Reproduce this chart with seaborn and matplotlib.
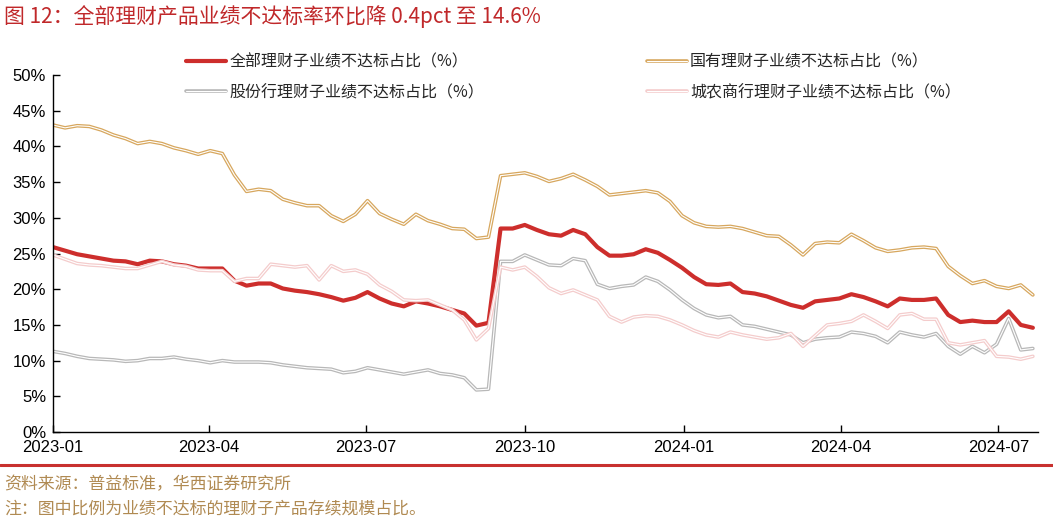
import pandas as pd
import matplotlib.pyplot as plt
import matplotlib.patheffects as pe
import seaborn as sns

# weekly observations, 2023-01 .. 2024-07
dates = pd.date_range('2023-01-06', periods=82, freq='7D')

all_wm = [25.9, 25.4, 24.9, 24.6, 24.3, 24.0, 23.9, 23.5, 24.0, 23.9,
          23.5, 23.3, 22.9, 22.9, 22.9, 21.2, 20.5, 20.8, 20.8, 20.1,
          19.8, 19.6, 19.3, 18.9, 18.4, 18.8, 19.6, 18.7, 18.0, 17.6,
          18.3, 18.0, 17.6, 17.1, 16.6, 14.9, 15.3, 28.5, 28.5, 29.0,
          28.3, 27.7, 27.5, 28.3, 27.7, 25.9, 24.7, 24.7, 24.9, 25.6,
          25.1, 24.1, 23.0, 21.7, 20.7, 20.6, 20.8, 19.6, 19.4, 19.0,
          18.4, 17.8, 17.4, 18.3, 18.5, 18.7, 19.3, 18.9, 18.3, 17.6,
          18.7, 18.5, 18.5, 18.7, 16.4, 15.4, 15.6, 15.4, 15.4, 16.9,
          15.0, 14.6]

state_owned = [43.0, 42.6, 42.9, 42.8, 42.3, 41.6, 41.1, 40.4, 40.7, 40.4,
               39.8, 39.4, 38.9, 39.4, 39.0, 36.0, 33.7, 34.0, 33.8, 32.6,
               32.1, 31.7, 31.7, 30.3, 29.5, 30.5, 32.4, 30.6, 29.8, 29.1,
               30.5, 29.6, 29.1, 28.5, 28.4, 27.1, 27.3, 35.9, 36.1, 36.3,
               35.8, 35.1, 35.5, 36.1, 35.3, 34.4, 33.2, 33.4, 33.6, 33.8,
               33.5, 32.3, 30.3, 29.3, 28.8, 28.7, 28.8, 28.5, 28.0, 27.5,
               27.4, 26.2, 24.8, 26.4, 26.6, 26.5, 27.7, 26.8, 25.8, 25.3,
               25.5, 25.8, 25.9, 25.7, 23.2, 21.9, 20.8, 21.2, 20.4, 20.1,
               20.6, 19.2]

joint_stock = [11.3, 11.0, 10.6, 10.3, 10.2, 10.1, 9.9, 10.0, 10.3, 10.3,
               10.5, 10.2, 10.0, 9.7, 10.0, 9.8, 9.8, 9.8, 9.7, 9.4,
               9.2, 9.0, 8.9, 8.8, 8.3, 8.5, 9.0, 8.7, 8.4, 8.1,
               8.4, 8.7, 8.2, 8.0, 7.6, 5.9, 6.0, 23.9, 23.9, 24.8,
               24.1, 23.4, 23.3, 24.3, 24.0, 20.7, 20.1, 20.4, 20.6, 21.7,
               21.1, 19.9, 18.5, 17.3, 16.4, 16.0, 16.2, 15.0, 14.8, 14.4,
               14.0, 13.6, 12.5, 13.0, 13.2, 13.3, 14.0, 13.8, 13.4, 12.5,
               14.0, 13.6, 13.3, 13.8, 12.0, 10.9, 12.0, 11.1, 12.3, 15.9,
               11.5, 11.7]

city_comm = [24.8, 24.2, 23.6, 23.4, 23.3, 23.1, 22.9, 22.9, 23.4, 23.9,
             23.4, 23.2, 22.7, 22.6, 22.6, 21.1, 21.5, 21.5, 23.5, 23.3,
             23.1, 23.3, 21.3, 23.3, 22.5, 22.7, 22.1, 20.6, 19.7, 18.5,
             18.4, 18.5, 17.8, 17.1, 15.7, 12.9, 14.5, 23.1, 22.7, 23.1,
             21.8, 20.2, 19.4, 19.9, 19.2, 18.5, 16.2, 15.4, 16.1, 16.3,
             16.2, 15.7, 15.0, 14.2, 13.6, 13.3, 14.0, 13.6, 13.3, 13.0,
             13.2, 13.8, 12.0, 13.5, 15.0, 15.2, 15.5, 16.4, 15.5, 14.5,
             16.4, 16.6, 15.8, 15.8, 12.5, 12.2, 12.5, 12.8, 10.6, 10.5,
             10.2, 10.6]

labels = ['全部理财子业绩不达标占比（%）', '国有理财子业绩不达标占比（%）',
          '股份行理财子业绩不达标占比（%）', '城农商行理财子业绩不达标占比（%）']

df = pd.DataFrame({'date': dates, 'all': all_wm, 'state': state_owned,
                   'joint': joint_stock, 'city': city_comm})

sns.set_theme(style='white')
plt.rcParams['font.family'] = ['Liberation Sans', 'Noto Sans CJK SC', 'DejaVu Sans']
plt.rcParams['axes.unicode_minus'] = False

fig = plt.figure(figsize=(10.53, 5.21), dpi=100)
ax = fig.add_axes([0.0503, 0.1708, 0.9355, 0.6852])

RED = '#CD2E2C'


def double_line(col, color, label):
    sns.lineplot(data=df, x='date', y=col, ax=ax, color='white', linewidth=0.8,
                 label=label,
                 path_effects=[pe.Stroke(linewidth=2.6, foreground=color), pe.Normal()])


sns.lineplot(data=df, x='date', y='all', ax=ax, color=RED, linewidth=3.0, label=labels[0])
double_line('state', '#D7A75E', labels[1])
double_line('joint', '#B8B8B8', labels[2])
double_line('city', '#F4CCCC', labels[3])

ax.set_ylim(0, 50)
ax.set_yticks(range(0, 51, 5))
ax.set_yticklabels([f'{v}%' for v in range(0, 51, 5)])
ticks = [dates[0] + pd.DateOffset(months=3 * k) for k in range(7)]
ax.set_xticks(ticks)
ax.set_xticklabels([t.strftime('%Y-%m') for t in ticks])
ax.set_xlim(dates[0], dates[-1] + pd.Timedelta(days=3))
ax.set_xlabel('')
ax.set_ylabel('')

for s in ['top', 'right']:
    ax.spines[s].set_visible(False)
for s in ['left', 'bottom']:
    ax.spines[s].set_color('black')
    ax.spines[s].set_linewidth(1.0)
ax.tick_params(axis='both', direction='in', length=5, width=1, colors='black',
               labelsize=12, labelcolor='black')
ax.tick_params(axis='x', pad=6)
ax.tick_params(axis='y', pad=5)
ax.tick_params(left=True, bottom=True)

h, l = ax.get_legend_handles_labels()
ax.get_legend().remove()
order = [0, 2, 1, 3]
fig.legend([h[i] for i in order], [l[i] for i in order], loc='upper left',
           bbox_to_anchor=(0.163, 0.925), ncol=2, frameon=False,
           prop={'family': ['Noto Sans CJK SC'], 'size': 11.5},
           handlelength=2.5, handletextpad=0.2, columnspacing=10.2, labelspacing=0.85)

fig.text(0.004, 0.968, '图 12：全部理财产品业绩不达标率环比降 0.4pct 至 14.6%',
         color='#C0282A', fontsize=15, va='center', ha='left',
         family=['Noto Sans CJK SC', 'DejaVu Sans'])

fig.add_artist(plt.Line2D([0, 1], [1 - 465 / 521] * 2, color='#C8312F', linewidth=2.2,
                          transform=fig.transFigure))
fig.text(0.004, 1 - 484 / 521, '资料来源：普益标准，华西证券研究所', color='#B08A52',
         fontsize=12.2, va='center', ha='left', family=['Noto Sans CJK SC'])
fig.text(0.004, 1 - 508 / 521, '注：图中比例为业绩不达标的理财子产品存续规模占比。', color='#B08A52',
         fontsize=12.2, va='center', ha='left', family=['Noto Sans CJK SC'])

fig.savefig('out.png', dpi=100)
